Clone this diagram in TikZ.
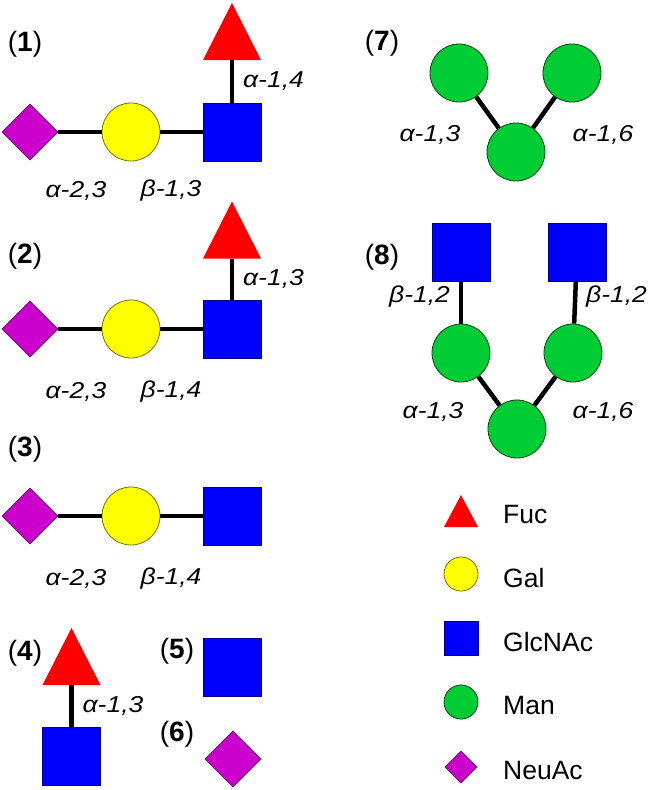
\documentclass[tikz,border=0pt]{standalone}
\usepackage{fontspec}
\setmainfont{Liberation Sans}
\newfontfamily\linkfont[FakeStretch=1.15]{Liberation Sans}
\usepackage{tikz}
\usetikzlibrary{shapes.geometric}

\definecolor{fucred}{RGB}{255,0,0}
\definecolor{galyellow}{RGB}{255,255,0}
\definecolor{glcblue}{RGB}{0,0,255}
\definecolor{mangreen}{RGB}{0,204,51}
\definecolor{neupurple}{RGB}{204,0,204}

\tikzset{
  sugar/.style={inner sep=0pt, line width=0.8pt},
  glcnac/.style={sugar, rectangle, draw=glcblue!55!black, fill=glcblue, minimum size=58pt},
  gal/.style={sugar, circle, draw=galyellow!45!black, fill=galyellow, minimum size=58pt},
  man/.style={sugar, circle, draw=mangreen!35!black, fill=mangreen, minimum size=58pt},
  neuac/.style={sugar, diamond, draw=neupurple!55!black, fill=neupurple, minimum size=56pt},
  fuc/.style={sugar, rectangle, minimum width=58pt, minimum height=57pt,
    path picture={\fill[fucred] (path picture bounding box.south west)
      -- (path picture bounding box.south east) -- (path picture bounding box.north) -- cycle;}},
  link/.style={line width=4.5pt},
  linkage/.style={font=\linkfont\itshape\fontsize{23}{27}\selectfont},
  panel/.style={font=\fontsize{28}{32}\selectfont},
  keytext/.style={anchor=west, inner sep=0pt, font=\fontsize{26.5}{31}\selectfont}
}

\begin{document}
\begin{tikzpicture}[x=1pt,y=-1pt]
  \useasboundingbox (0,0) rectangle (655,790);

  \draw (25,44) node[panel] (lab1) {(\textbf{1})};
  \draw (30,132) node[neuac] (neu1) {};
  \draw (131,132) node[gal] (gal1) {};
  \draw (232,132) node[glcnac] (glc1) {};
  \draw (232,31.5) node[fuc] (fuc1) {};
  \draw (76,191) node[linkage] (l1a) {α-2,3};
  \draw (171,191) node[linkage] (l1b) {β-1,3};

  \draw (25,256) node[panel] (lab2) {(\textbf{2})};
  \draw (30,329) node[neuac] (neu2) {};
  \draw (131,329) node[gal] (gal2) {};
  \draw (232,329) node[glcnac] (glc2) {};
  \draw (232,230) node[fuc] (fuc2) {};
  \draw (76,392) node[linkage] (l2a) {α-2,3};
  \draw (171,392) node[linkage] (l2b) {β-1,4};

  \draw (25,449) node[panel] (lab3) {(\textbf{3})};
  \draw (30,516) node[neuac] (neu3) {};
  \draw (131,516) node[gal] (gal3) {};
  \draw (232,516) node[glcnac] (glc3) {};
  \draw (76,579) node[linkage] (l3a) {α-2,3};
  \draw (171,579) node[linkage] (l3b) {β-1,4};

  \draw (25,653) node[panel] (lab4) {(\textbf{4})};
  \draw (71.5,656.5) node[fuc] (fuc4) {};
  \draw (71.5,756) node[glcnac] (glc4) {};

  \draw (177,651) node[panel] (lab5) {(\textbf{5})};
  \draw (232.5,667.5) node[glcnac] (glc5) {};

  \draw (177,734) node[panel] (lab6) {(\textbf{6})};
  \draw (233,759) node[neuac] (neu6) {};

  \draw (382,43) node[panel] (lab7) {(\textbf{7})};
  \draw (459,73) node[man] (man7a) {};
  \draw (572,73) node[man] (man7b) {};
  \draw (516,152) node[man] (man7c) {};
  \draw (430,135) node[linkage] (l7a) {α-1,3};
  \draw (603,135) node[linkage] (l7b) {α-1,6};

  \draw (382,257) node[panel] (lab8) {(\textbf{8})};
  \draw (461,252) node[glcnac] (glc8a) {};
  \draw (577,252) node[glcnac] (glc8b) {};
  \draw (461,353) node[man] (man8a) {};
  \draw (573,353) node[man] (man8b) {};
  \draw (517,429) node[man] (man8c) {};
  \draw (433,412) node[linkage] (l8a) {α-1,3};
  \draw (603,412) node[linkage] (l8b) {α-1,6};

  \draw (461,511) node[fuc, minimum width=34pt, minimum height=32pt] (keyfuc) {};
  \draw (461,574) node[gal, minimum size=34pt] (keygal) {};
  \draw (461,638) node[glcnac, minimum size=34pt] (keyglc) {};
  \draw (461,702) node[man, minimum size=34pt] (keyman) {};
  \draw (461,767) node[neuac, minimum size=32pt] (keyneu) {};
  \draw (503,515) node[keytext] (txtfuc) {Fuc};
  \draw (503,578) node[keytext] (txtgal) {Gal};
  \draw (503,642) node[keytext] (txtglc) {GlcNAc};
  \draw (503,706) node[keytext] (txtman) {Man};
  \draw (503,771) node[keytext] (txtneu) {NeuAc};

  \path[link] (neu1) edge (gal1) (gal1) edge (glc1);
  \path[link] (neu2) edge (gal2) (gal2) edge (glc2);
  \path[link] (neu3) edge (gal3) (gal3) edge (glc3);
  \path[link] (glc1) edge node[label distance=4pt, label={[linkage]right:{α-1,4}}] {} (fuc1);
  \path[link] (glc2) edge node[label distance=4pt, label={[linkage]right:{α-1,3}}] {} (fuc2);
  \path[link] (glc4) edge node[label distance=5pt, label={[linkage]right:{α-1,3}}] {} (fuc4);
  \path[link] (man7c) edge (man7a) (man7c) edge (man7b);
  \path[link] (glc8a) edge node[label distance=2pt, label={[linkage,yshift=6pt]left:{β-1,2}}] {} (man8a);
  \path[link] (glc8b) edge node[label={[linkage,yshift=6pt]right:{β-1,2}}] {} (man8b);
  \path[link] (man8c) edge (man8a) (man8c) edge (man8b);
\end{tikzpicture}
\end{document}
